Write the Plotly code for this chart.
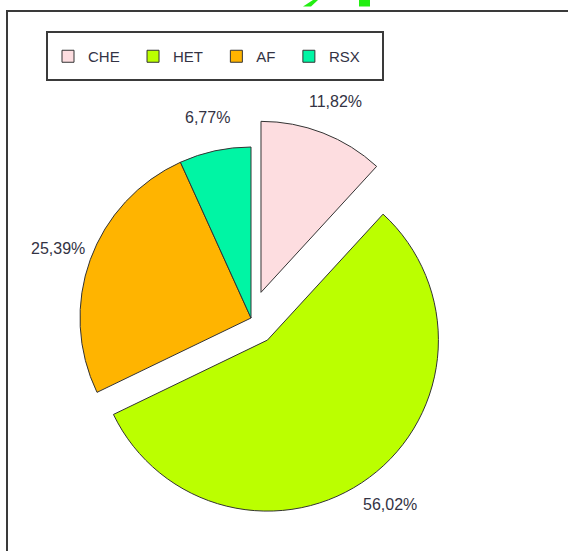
import math
import plotly.graph_objects as go

W, H = 568, 551

# ---- data ----
categories = ["CHE", "HET", "AF", "RSX"]
shares = [11.82, 56.02, 25.39, 6.77]
colors = ["#FDDDE0", "#BBFF00", "#FFB400", "#00F5A4"]
pulls = [0.161, 0.161, 0.0, 0.0]

FONT = "Liberation Sans, Arial, sans-serif"
TXT = "#333344"

# pie geometry (pixels)
CX, CY = 251, 318
R = 171            # slice radius
LABEL_R = 1.2      # label distance, as a multiple of the radius

half = R * (1 + max(pulls))
pie_domain = dict(x=[(CX - half) / W, (CX + half) / W],
                  y=[1 - (CY + half) / H, 1 - (CY - half) / H])

fig = go.Figure()

fig.add_trace(go.Pie(
    labels=[c + "\u00a0\u00a0" for c in categories],
    values=shares,
    sort=False,
    direction="clockwise",
    rotation=0,
    pull=pulls,
    marker=dict(colors=colors, line=dict(color="#333333", width=1)),
    textinfo="none",
    hoverinfo="label+percent",
    domain=pie_domain,
    showlegend=True,
    automargin=False,
))

# percentage labels, placed radially at the middle angle of each slice
total = sum(shares)
annotations = []
cum = 0.0
for share, pull in zip(shares, pulls):
    theta = 2 * math.pi * (cum + share / 2) / total   # clockwise from 12 o'clock
    cum += share
    dist = R * (pull + LABEL_R)
    px = CX + dist * math.sin(theta)
    py = CY - dist * math.cos(theta)
    pct = f"{100 * share / total:.2f}%".replace(".", ",")
    annotations.append(dict(
        x=px / W, y=1 - py / H, xref="paper", yref="paper",
        text=pct, showarrow=False, xanchor="center", yanchor="middle",
        font=dict(family=FONT, size=16, color=TXT),
    ))

shapes = [
    # outer frame
    dict(type="rect", xref="paper", yref="paper",
         x0=7 / W, x1=1.02, y0=-0.02, y1=1 - 11 / H,
         line=dict(color="#3a3a3a", width=2), fillcolor="rgba(0,0,0,0)"),
    # legend box
    dict(type="rect", xref="paper", yref="paper",
         x0=47 / W, x1=383 / W, y0=1 - 80 / H, y1=1 - 32 / H,
         line=dict(color="#3a3a3a", width=2), fillcolor="rgba(0,0,0,0)"),
    # clipped green title fragments at the very top
    dict(type="path", xref="paper", yref="paper",
         path=f"M {303/W},{1-6.5/H} L {313/W},1 L {318/W},1 L {311/W},{1-6.5/H} Z",
         fillcolor="#22EE11", line=dict(width=0)),
    dict(type="rect", xref="paper", yref="paper",
         x0=359 / W, x1=370 / W, y0=1 - 6.5 / H, y1=1,
         fillcolor="#22EE11", line=dict(width=0)),
]

fig.update_layout(
    width=W, height=H,
    margin=dict(l=0, r=0, t=0, b=0, pad=0, autoexpand=False),
    paper_bgcolor="white",
    plot_bgcolor="white",
    separators=",.",
    font=dict(family=FONT, color=TXT),
    shapes=shapes,
    annotations=annotations,
    legend=dict(
        orientation="h",
        x=48 / W, xanchor="left",
        y=1 - 40 / H, yanchor="top",
        bgcolor="rgba(0,0,0,0)",
        borderwidth=0,
        font=dict(family=FONT, size=15, color=TXT),
        traceorder="normal",
    ),
)

fig.write_html("out.html",
               config={"displayModeBar": False},
               post_script="document.body.style.margin='0px';document.body.style.padding='0px';")
